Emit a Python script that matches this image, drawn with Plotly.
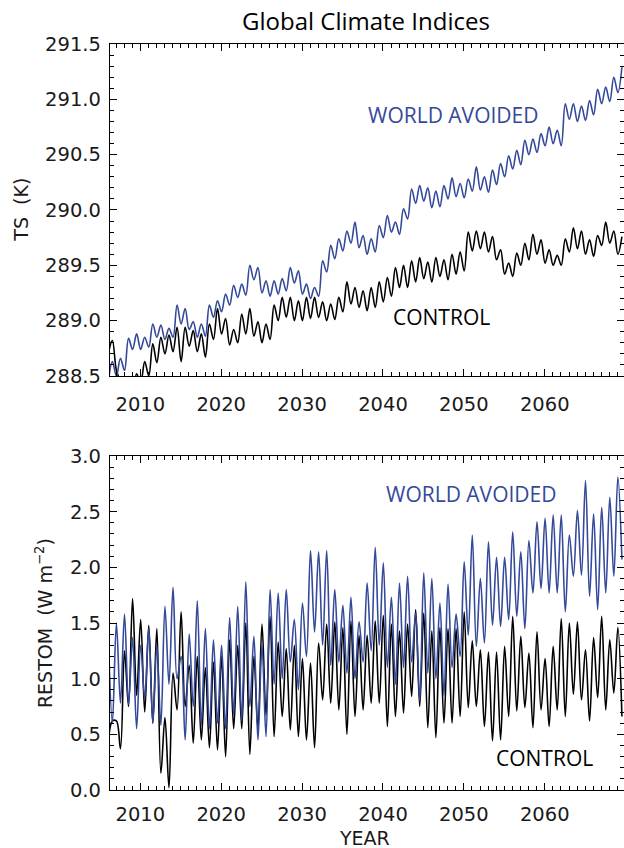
import plotly.graph_objects as go

# ---------------- data ----------------
years = list(range(2006, 2070))

# Global mean surface temperature TS (K): value near January and near July of each year
ts_avoided_jan = [288.45, 288.50, 288.55, 288.74, 288.74, 288.76, 288.85, 288.83, 288.85, 288.97,
                  288.92, 288.85, 288.86, 289.03, 289.08, 289.14, 289.21, 289.23, 289.37, 289.25,
                  289.22, 289.24, 289.27, 289.34, 289.24, 289.20, 289.22, 289.44, 289.56, 289.63,
                  289.70, 289.66, 289.60, 289.62, 289.75, 289.80, 289.78, 289.92, 290.06, 290.08,
                  290.02, 290.03, 290.10, 290.12, 290.11, 290.17, 290.18, 290.16, 290.23, 290.30,
                  290.37, 290.41, 290.50, 290.52, 290.58, 290.60, 290.58, 290.82, 290.80, 290.81,
                  290.86, 290.96, 290.98, 291.06]
ts_avoided_jul = [288.63, 288.66, 288.84, 288.88, 288.85, 288.97, 288.96, 288.93, 289.14, 289.11,
                  288.99, 288.97, 289.14, 289.18, 289.24, 289.32, 289.33, 289.50, 289.48, 289.36,
                  289.36, 289.38, 289.48, 289.45, 289.33, 289.30, 289.54, 289.68, 289.74, 289.81,
                  289.89, 289.77, 289.74, 289.86, 289.95, 289.89, 290.01, 290.19, 290.22, 290.20,
                  290.17, 290.22, 290.29, 290.24, 290.28, 290.39, 290.30, 290.36, 290.42, 290.49,
                  290.54, 290.63, 290.64, 290.69, 290.75, 290.72, 290.96, 290.96, 290.94, 290.99,
                  291.09, 291.11, 291.20, 291.29]
ts_control_jan = [288.70, 288.55, 288.30, 288.35, 288.44, 288.50, 288.62, 288.70, 288.72, 288.63,
                  288.77, 288.72, 288.67, 288.83, 288.88, 288.78, 288.80, 288.88, 288.86, 288.80,
                  288.83, 289.00, 289.03, 289.00, 289.00, 289.02, 289.03, 289.00, 289.01, 289.08,
                  289.15, 289.12, 289.09, 289.12, 289.17, 289.22, 289.30, 289.30, 289.35, 289.38,
                  289.35, 289.40, 289.37, 289.42, 289.45, 289.63, 289.65, 289.62, 289.55, 289.42,
                  289.40, 289.50, 289.55, 289.60, 289.52, 289.50, 289.50, 289.62, 289.65, 289.60,
                  289.58, 289.68, 289.70, 289.60]
ts_control_jul = [288.82, 288.45, 288.42, 288.52, 288.63, 288.79, 288.85, 288.87, 288.94, 288.94,
                  288.91, 288.88, 288.97, 289.11, 289.02, 288.92, 289.06, 289.11, 288.99, 288.97,
                  289.14, 289.21, 289.21, 289.18, 289.21, 289.21, 289.17, 289.15, 289.21, 289.35,
                  289.30, 289.27, 289.30, 289.35, 289.39, 289.48, 289.50, 289.54, 289.57, 289.53,
                  289.57, 289.55, 289.60, 289.62, 289.80, 289.81, 289.80, 289.76, 289.64, 289.52,
                  289.61, 289.70, 289.78, 289.73, 289.64, 289.59, 289.74, 289.84, 289.81, 289.73,
                  289.77, 289.89, 289.81, 289.76]

# Net top-of-model radiation RESTOM (W m-2): value near January and near July of each year
restom_avoided_jan = [1.40, 1.50, 1.58, 1.37, 1.30, 1.45, 1.30, 1.65, 1.82, 1.20,
                      1.40, 1.70, 1.45, 1.35, 1.30, 1.55, 1.65, 1.87, 1.38, 1.30,
                      1.80, 1.77, 1.80, 1.53, 1.68, 2.15, 2.14, 2.15, 1.80, 1.66,
                      1.73, 1.51, 1.86, 2.18, 2.04, 1.73, 1.86, 1.92, 1.59, 1.95,
                      1.90, 1.68, 1.85, 1.58, 2.05, 2.29, 1.90, 2.23, 2.09, 2.09,
                      2.32, 2.14, 2.24, 2.41, 2.44, 2.47, 2.47, 2.29, 2.51, 2.78,
                      2.48, 2.54, 2.63, 2.81]
restom_avoided_jul = [0.60, 0.78, 0.77, 0.55, 0.82, 0.60, 0.58, 0.95, 1.00, 0.45,
                      0.75, 0.58, 0.55, 0.60, 0.55, 0.68, 0.62, 0.75, 0.45, 0.48,
                      0.95, 1.00, 1.15, 0.90, 1.20, 1.42, 1.30, 1.12, 1.15, 1.05,
                      1.00, 1.15, 1.25, 1.30, 1.10, 0.95, 1.10, 1.15, 0.80, 1.05,
                      1.00, 0.85, 1.10, 1.20, 1.39, 1.29, 1.32, 1.48, 1.47, 1.53,
                      1.56, 1.45, 1.77, 1.81, 1.77, 1.77, 1.60, 1.92, 1.93, 1.74,
                      1.62, 1.77, 1.92, 2.07]
restom_control_jan = [-0.80, 0.62, 1.25, 1.72, 1.53, 1.48, 1.45, 0.65, 1.05, 1.60,
                      1.12, 1.20, 1.10, 1.15, 1.20, 1.35, 1.30, 1.50, 1.20, 1.49,
                      1.56, 1.33, 1.27, 1.30, 1.18, 1.14, 1.32, 1.49, 1.51, 1.46,
                      1.52, 1.39, 1.39, 1.52, 1.57, 1.49, 1.43, 1.49, 1.62, 1.59,
                      1.43, 1.46, 1.45, 1.45, 1.60, 1.34, 1.26, 1.24, 1.24, 1.29,
                      1.56, 1.38, 1.23, 1.42, 1.18, 1.29, 1.54, 1.50, 1.51, 1.26,
                      1.37, 1.56, 1.35, 1.46]
restom_control_jul = [0.62, 0.37, 0.75, 0.85, 0.70, 0.60, 0.15, 0.02, 0.72, 0.75,
                      0.42, 0.45, 0.38, 0.36, 0.30, 0.55, 0.55, 0.32, 0.55, 0.67,
                      0.48, 0.66, 0.54, 0.48, 0.45, 0.38, 0.81, 0.78, 0.72, 0.50,
                      0.66, 0.72, 0.78, 0.78, 0.57, 0.66, 0.69, 0.84, 0.75, 0.56,
                      0.47, 0.60, 0.60, 0.66, 0.74, 0.75, 0.57, 0.44, 0.45, 0.66,
                      0.71, 0.74, 0.56, 0.72, 0.57, 0.72, 0.66, 0.86, 0.81, 0.62,
                      0.83, 0.72, 0.87, 0.66]

x_ticks = [2010, 2020, 2030, 2040, 2050, 2060]
ts_ticks = [288.5, 289.0, 289.5, 290.0, 290.5, 291.0, 291.5]
restom_ticks = [0.0, 0.5, 1.0, 1.5, 2.0, 2.5, 3.0]


def series(jan, jul):
    xs, ys = [], []
    for yr, a, b in zip(years, jan, jul):
        xs += [yr + 1 / 24, yr + 13 / 24]
        ys += [a, b]
    return xs, ys


BLUE = "#34499a"
BLACK = "#000000"

fig = go.Figure()
for (jan, jul), col, ax in [
    ((ts_control_jan, ts_control_jul), BLACK, ("x", "y")),
    ((ts_avoided_jan, ts_avoided_jul), BLUE, ("x", "y")),
    ((restom_control_jan, restom_control_jul), BLACK, ("x2", "y2")),
    ((restom_avoided_jan, restom_avoided_jul), BLUE, ("x2", "y2")),
]:
    xs, ys = series(jan, jul)
    fig.add_trace(go.Scatter(x=xs, y=ys, mode="lines", xaxis=ax[0], yaxis=ax[1],
                             line=dict(color=col, width=1.6, shape="spline", smoothing=1.0),
                             showlegend=False, hoverinfo="skip"))

tickfont = dict(family="DejaVu Sans", size=19.5, color="#1a1a1a")
common_x = dict(range=[2006.25, 2069.8], tickvals=x_ticks, ticks="inside", ticklen=7,
                tickwidth=1.2, tickcolor="black", showline=True, linecolor="black",
                linewidth=1.4, mirror="ticks", showgrid=False, zeroline=False,
                tickfont=tickfont,
                minor=dict(dtick=1, tick0=2006, ticks="inside", ticklen=3.5,
                           tickwidth=1, tickcolor="black", showgrid=False))
common_y = dict(ticks="inside", ticklen=7, tickwidth=1.2, tickcolor="black",
                showline=True, linecolor="black", linewidth=1.4, mirror="ticks",
                showgrid=False, zeroline=False, tickformat=".1f", tickfont=tickfont,
                ticklabelstandoff=4)

fig.update_layout(
    width=624, height=848,
    margin=dict(l=110, r=0, t=44, b=58),
    paper_bgcolor="white", plot_bgcolor="white",
    xaxis=dict(common_x, domain=[0, 1], anchor="y", ticklabelstandoff=10),
    yaxis=dict(common_y, domain=[0.555, 1], anchor="x", range=[288.5, 291.5],
               tickvals=ts_ticks,
               minor=dict(dtick=0.1, tick0=288.5, ticks="inside", ticklen=3.5,
                          tickwidth=1, tickcolor="black", showgrid=False)),
    xaxis2=dict(common_x, domain=[0, 1], anchor="y2", ticklabelstandoff=6),
    yaxis2=dict(common_y, domain=[0, 0.4477], anchor="x2", range=[0, 3],
                tickvals=restom_ticks,
                minor=dict(dtick=0.1, tick0=0, ticks="inside", ticklen=3.5,
                           tickwidth=1, tickcolor="black", showgrid=False)),
)

label_font = dict(family="Open Sans", size=21)
fig.add_annotation(text="Global Climate Indices", xref="paper", yref="paper",
                   x=0.498, y=1.032, showarrow=False, xanchor="center", yanchor="middle",
                   font=dict(family="Open Sans", size=24, color="black"))
fig.add_annotation(text="WORLD AVOIDED", xref="x", yref="y", x=2048.7, y=290.86,
                   showarrow=False, font=dict(label_font, color=BLUE))
fig.add_annotation(text="CONTROL", xref="x", yref="y", x=2047.2, y=289.03,
                   showarrow=False, font=dict(label_font, color="black"))
fig.add_annotation(text="WORLD AVOIDED", xref="x2", yref="y2", x=2050.9, y=2.66,
                   showarrow=False, font=dict(label_font, color=BLUE))
fig.add_annotation(text="CONTROL", xref="x2", yref="y2", x=2060.0, y=0.287,
                   showarrow=False, font=dict(label_font, color="black"))

axis_title_font = dict(family="DejaVu Sans", size=19, color="#1a1a1a")
fig.add_annotation(text="TS  (K)", xref="paper", yref="paper", x=-0.173, y=0.778,
                   textangle=-90, showarrow=False, xanchor="center", yanchor="middle",
                   font=axis_title_font)
fig.add_annotation(text="RESTOM  (W m<sup>−2</sup>)", xref="paper", yref="paper",
                   x=-0.128, y=0.224, textangle=-90, showarrow=False,
                   xanchor="center", yanchor="middle", font=axis_title_font)
fig.add_annotation(text="YEAR", xref="paper", yref="paper", x=0.496, y=-0.064,
                   showarrow=False, xanchor="center", yanchor="middle",
                   font=axis_title_font)

fig.write_html("out.html")
